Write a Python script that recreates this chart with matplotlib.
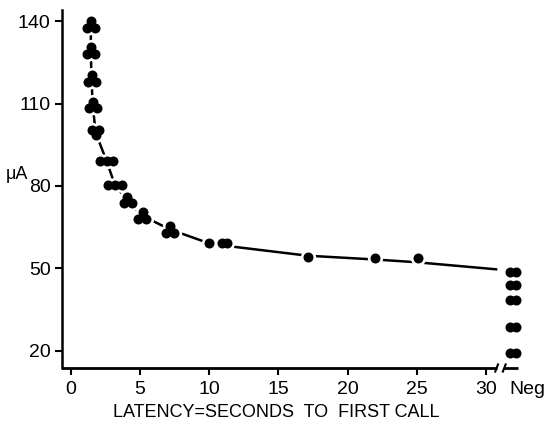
import matplotlib
matplotlib.use('Agg')
import matplotlib.pyplot as plt

plt.rcParams['font.family'] = ['Liberation Sans Narrow', 'Liberation Sans', 'DejaVu Sans']

# latency (s) vs current (uA)
latency = [1.46, 1.20, 1.77,
           1.46, 1.20, 1.75,
           1.51, 1.27, 1.82,
           1.59, 1.34, 1.87,
           1.56, 2.06, 1.82,
           2.11, 2.60, 3.07,
           2.71, 3.19, 3.68,
           4.08, 3.84, 4.40,
           5.19, 4.87, 5.43,
           7.16, 6.87, 7.45,
           9.98, 10.9, 11.3,
           17.1, 22.0, 25.1]
current = [140, 137.6, 137.6,
           130.5, 128.1, 128.1,
           120.3, 117.9, 117.9,
           110.6, 108.2, 108.2,
           100.5, 100.5, 98.4,
           89, 89, 89,
           80.3, 80.3, 80.3,
           75.8, 73.8, 73.8,
           70.5, 67.8, 67.8,
           65.3, 62.9, 62.9,
           59.1, 59.1, 59.1,
           54.1, 53.9, 53.6]

# animals that never called ("Neg"), drawn as pairs
neg_current = [48.6, 44.0, 38.6, 28.6, 19.3]

# fitted curve
curve_x = [1.46, 1.46, 1.5, 1.6, 1.8, 2.6, 3.2, 4.1, 5.15, 7.15, 10.0, 11.85, 17.1, 22.0, 25.0, 30.8]
curve_y = [139.5, 129.5, 119.5, 109.5, 99.5, 89, 80.3, 74.8, 69.2, 64.2, 59.1, 57.8, 54.6, 53.2, 52.2, 49.6]

xticks = [0, 5, 10, 15, 20, 25, 30]
yticks = [20, 50, 80, 110, 140]

neg_x = 31.9
xmin, xmax = -0.65, 32.3
ymin, ymax = 13.7, 144

fig = plt.figure(figsize=(5.5, 4.23), dpi=100)
ax = fig.add_axes([0.112, 0.130, 0.830, 0.846])

ax.plot(curve_x, curve_y, color='black', lw=1.8, solid_capstyle='butt', zorder=1)

# white halo so the line stops short of the dots
ax.plot(latency, current, 'o', color='white', ms=11, mew=0, zorder=2)
ax.plot(latency, current, 'o', color='black', ms=7.2, mew=0, zorder=3)

for v in neg_current:
    ax.plot([neg_x - 0.22, neg_x + 0.22], [v, v], 'o', color='black', ms=7.2, mew=0,
            zorder=3, clip_on=False)

ax.set_xlim(xmin, xmax)
ax.set_ylim(ymin, ymax)

ax.spines['top'].set_visible(False)
ax.spines['right'].set_visible(False)
ax.spines['bottom'].set_visible(False)
ax.spines['left'].set_linewidth(1.8)
ax.spines['left'].set_bounds(ymin, ymax)

# broken x axis
ax.plot([xmin, 30.75], [ymin, ymin], color='black', lw=2, clip_on=False, solid_capstyle='butt')
ax.plot([31.3, xmax], [ymin, ymin], color='black', lw=2, clip_on=False, solid_capstyle='butt')
ax.plot([30.65, 30.85], [ymin - 1.3, ymin + 1.3], color='black', lw=1.5, clip_on=False)
ax.plot([31.2, 31.4], [ymin - 1.3, ymin + 1.3], color='black', lw=1.5, clip_on=False)

ax.set_xticks(xticks)
ax.set_xticklabels([str(t) for t in xticks])
ax.set_yticks(yticks)
ax.set_yticklabels([str(t) for t in yticks])
ax.tick_params(axis='both', direction='out', length=5, width=1.5, labelsize=14, pad=3)
ax.tick_params(axis='x', pad=4)

ax.text(33.0, -0.035, 'Neg', transform=ax.get_xaxis_transform(), ha='center', va='top',
        fontsize=14)
ax.text(-0.097, 84, '\u03bcA', transform=ax.get_yaxis_transform(), ha='center', va='center',
        fontsize=13)

ax.set_xlabel('LATENCY=SECONDS  TO  FIRST CALL', fontsize=13, labelpad=0)
ax.xaxis.set_label_coords(0.47, -0.1)

fig.savefig('out.png', dpi=100)
